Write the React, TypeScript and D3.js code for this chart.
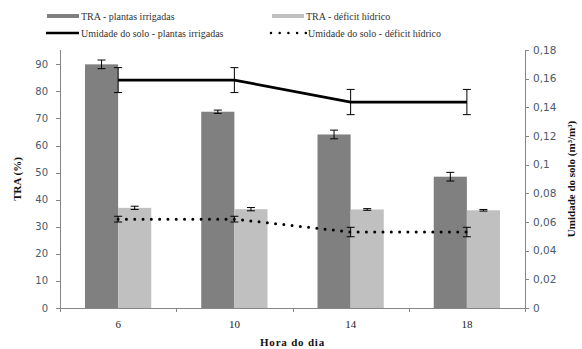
import React, { useCallback, useEffect, useRef } from 'react';
import * as d3 from 'd3';

const horas = ['6', '10', '14', '18'];
const traIrrigadas = [90, 72.5, 64.1, 48.5];
const traIrrigadasErr = [1.6, 0.6, 1.6, 1.6];
const traDeficit = [37, 36.5, 36.4, 36.1];
const traDeficitErr = [0.6, 0.6, 0.3, 0.3];
const umidIrrigadas = [0.159, 0.159, 0.1437, 0.1437];
const umidIrrigadasErr = [0.0087, 0.0087, 0.0088, 0.0088];
const umidDeficit = [0.062, 0.062, 0.053, 0.053];
const umidDeficitErr = [0.002, 0.002, 0.0033, 0.0033];
const ticksTRA = [0, 10, 20, 30, 40, 50, 60, 70, 80, 90];
const ticksUmid = [0, 0.02, 0.04, 0.06, 0.08, 0.1, 0.12, 0.14, 0.16, 0.18];

const W = 582;
const H = 349;
const serif = '"Liberation Serif", "Times New Roman", serif';
const sans = '"DejaVu Sans", Verdana, sans-serif';

export default function App() {
  const ref = useRef<SVGSVGElement>(null);

  const draw = useCallback(() => {
    const svg = d3.select(ref.current);
    svg.selectAll('*').remove();

    const left = 60;
    const right = 525;
    const top = 50;
    const bottom = 308;

    const x = d3.scaleBand().domain(horas).range([left, right]);
    const yL = d3.scaleLinear().domain([0, 95.3]).range([bottom, top]);
    const yR = d3.scaleLinear().domain([0, 0.18]).range([bottom, top]);
    const bw = x.bandwidth() * 0.285;
    const cx = (h: string) => (x(h) as number) + x.bandwidth() / 2;
    const axisColor = '#868686';

    // bars
    const g = svg.append('g');
    g.selectAll('rect.irr')
      .data(horas)
      .enter()
      .append('rect')
      .attr('x', (h) => cx(h) - bw)
      .attr('y', (h, i) => yL(traIrrigadas[i]))
      .attr('width', bw)
      .attr('height', (h, i) => bottom - yL(traIrrigadas[i]))
      .attr('fill', '#808080');
    g.selectAll('rect.def')
      .data(horas)
      .enter()
      .append('rect')
      .attr('x', (h) => cx(h))
      .attr('y', (h, i) => yL(traDeficit[i]))
      .attr('width', bw)
      .attr('height', (h, i) => bottom - yL(traDeficit[i]))
      .attr('fill', '#c0c0c0');

    const errBar = (px: number, lo: number, hi: number, cap: number) => {
      const e = svg.append('g').attr('stroke', '#000').attr('stroke-width', 1);
      e.append('line').attr('x1', px).attr('x2', px).attr('y1', lo).attr('y2', hi);
      e.append('line').attr('x1', px - cap).attr('x2', px + cap).attr('y1', lo).attr('y2', lo);
      e.append('line').attr('x1', px - cap).attr('x2', px + cap).attr('y1', hi).attr('y2', hi);
    };

    horas.forEach((h, i) => {
      const p1 = cx(h) - bw / 2;
      errBar(p1, yL(traIrrigadas[i] - traIrrigadasErr[i]), yL(traIrrigadas[i] + traIrrigadasErr[i]), 4);
      const p2 = cx(h) + bw / 2;
      errBar(p2, yL(traDeficit[i] - traDeficitErr[i]), yL(traDeficit[i] + traDeficitErr[i]), 4);
    });

    // axes
    const ax = svg.append('g').attr('stroke', axisColor).attr('stroke-width', 1).attr('shape-rendering', 'crispEdges');
    ax.append('line').attr('x1', left).attr('x2', left).attr('y1', top).attr('y2', bottom);
    ax.append('line').attr('x1', right).attr('x2', right).attr('y1', top).attr('y2', bottom);
    ax.append('line').attr('x1', left).attr('x2', right).attr('y1', bottom).attr('y2', bottom);
    ticksTRA.forEach((t) => {
      ax.append('line').attr('x1', left - 4).attr('x2', left).attr('y1', Math.round(yL(t))).attr('y2', Math.round(yL(t)));
    });
    ticksUmid.forEach((t) => {
      ax.append('line').attr('x1', right).attr('x2', right + 4).attr('y1', Math.round(yR(t))).attr('y2', Math.round(yR(t)));
    });
    [...horas.map((h) => x(h) as number), right].forEach((p) => {
      ax.append('line').attr('x1', Math.round(p)).attr('x2', Math.round(p)).attr('y1', bottom).attr('y2', bottom + 4);
    });

    svg.append('g')
      .selectAll('text')
      .data(ticksTRA)
      .enter()
      .append('text')
      .attr('x', left - 12)
      .attr('y', (d) => yL(d))
      .attr('dy', '0.35em')
      .attr('text-anchor', 'end')
      .attr('font-family', sans)
      .attr('font-size', 10)
      .attr('fill', '#4a5a6a')
      .text((d) => d);

    const fmt = d3.format('~g');
    svg.append('g')
      .selectAll('text')
      .data(ticksUmid)
      .enter()
      .append('text')
      .attr('x', right + 8)
      .attr('y', (d) => yR(d))
      .attr('dy', '0.35em')
      .attr('font-family', sans)
      .attr('font-size', 10.5)
      .attr('fill', '#4a5a6a')
      .text((d) => fmt(d).replace('.', ','));

    svg.append('g')
      .selectAll('text')
      .data(horas)
      .enter()
      .append('text')
      .attr('x', (h) => cx(h))
      .attr('y', 328)
      .attr('text-anchor', 'middle')
      .attr('font-family', serif)
      .attr('font-size', 11)
      .attr('fill', '#222')
      .text((h) => h);

    // lines
    const line = d3
      .line<number>()
      .x((d, i) => cx(horas[i]))
      .y((d) => yR(d));
    svg.append('path')
      .attr('d', line(umidIrrigadas))
      .attr('fill', 'none')
      .attr('stroke', '#000')
      .attr('stroke-width', 2.8);
    svg.append('path')
      .attr('d', line(umidDeficit))
      .attr('fill', 'none')
      .attr('stroke', '#000')
      .attr('stroke-width', 3)
      .attr('stroke-linecap', 'round')
      .attr('stroke-dasharray', '0 8.3');

    horas.forEach((h, i) => {
      errBar(cx(h), yR(umidIrrigadas[i] - umidIrrigadasErr[i]), yR(umidIrrigadas[i] + umidIrrigadasErr[i]), 4);
      errBar(cx(h), yR(umidDeficit[i] - umidDeficitErr[i]), yR(umidDeficit[i] + umidDeficitErr[i]), 4);
    });

    // axis titles
    svg.append('text')
      .attr('transform', `translate(21,${(top + bottom) / 2}) rotate(-90)`)
      .attr('text-anchor', 'middle')
      .attr('font-family', serif)
      .attr('font-weight', 'bold')
      .attr('font-size', 11)
      .attr('fill', '#111')
      .text('TRA (%)');
    svg.append('text')
      .attr('transform', `translate(575,${(top + bottom) / 2}) rotate(-90)`)
      .attr('text-anchor', 'middle')
      .attr('font-family', serif)
      .attr('font-weight', 'bold')
      .attr('font-size', 11)
      .attr('fill', '#111')
      .text('Umidade do solo (m³/m³)');
    svg.append('text')
      .attr('x', (left + right) / 2)
      .attr('y', 346)
      .attr('text-anchor', 'middle')
      .attr('font-family', serif)
      .attr('font-weight', 'bold')
      .attr('font-size', 11)
      .attr('letter-spacing', 0.8)
      .attr('fill', '#111')
      .text('Hora do dia');

    // legend
    const leg = svg.append('g').attr('font-family', serif).attr('font-size', 10).attr('fill', '#333');
    leg.append('rect').attr('x', 47).attr('y', 14).attr('width', 32).attr('height', 4).attr('fill', '#808080');
    leg.append('text').attr('x', 81).attr('y', 16).attr('dy', '0.35em').text('TRA - plantas irrigadas');
    leg.append('rect').attr('x', 272).attr('y', 14).attr('width', 32).attr('height', 4).attr('fill', '#c0c0c0');
    leg.append('text').attr('x', 306).attr('y', 16).attr('dy', '0.35em').text('TRA - déficit hídrico');
    leg.append('line').attr('x1', 46).attr('x2', 79).attr('y1', 33).attr('y2', 33).attr('stroke', '#000').attr('stroke-width', 2.5);
    leg.append('text').attr('x', 81).attr('y', 33).attr('dy', '0.35em').text('Umidade do solo - plantas irrigadas');
    leg.append('line')
      .attr('x1', 271).attr('x2', 306).attr('y1', 33).attr('y2', 33)
      .attr('stroke', '#000').attr('stroke-width', 2.5)
      .attr('stroke-linecap', 'round').attr('stroke-dasharray', '0 8.7');
    leg.append('text').attr('x', 308).attr('y', 33).attr('dy', '0.35em').text('Umidade do solo - déficit hídrico');
  }, []);

  useEffect(() => {
    draw();
  }, [draw]);

  return (
    <svg
      ref={ref}
      width={W}
      height={H}
      style={{ position: 'absolute', left: 0, top: 0, background: '#fff' }}
    ></svg>
  );
}
